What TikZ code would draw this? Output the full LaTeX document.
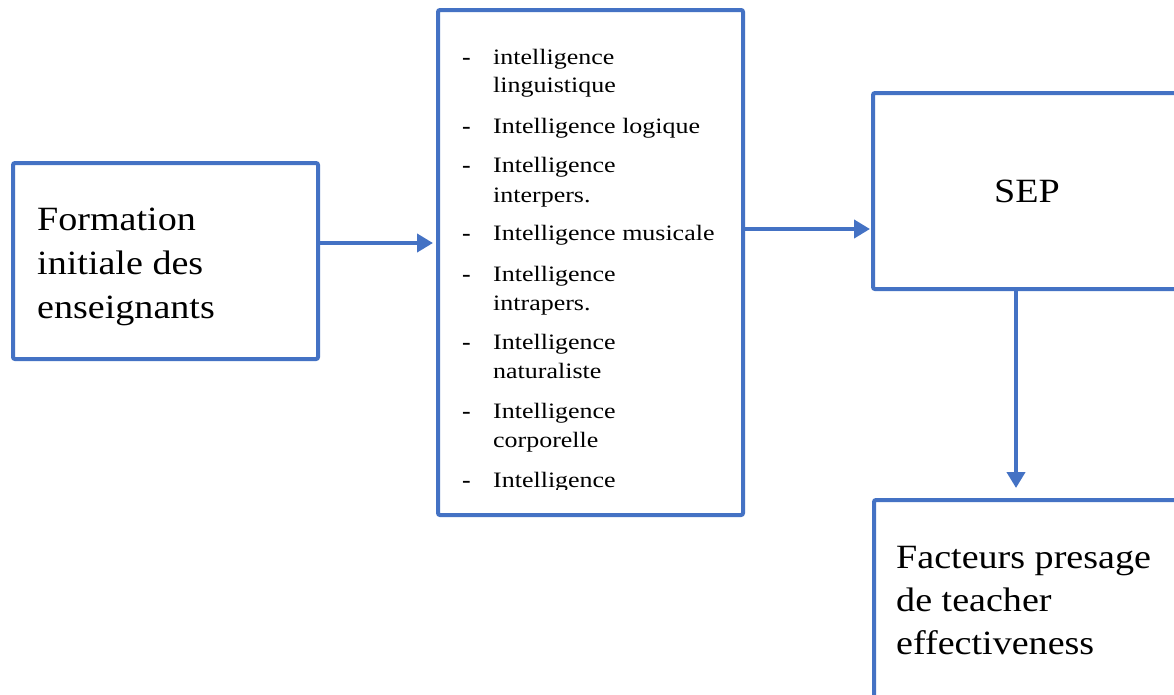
\documentclass[tikz,border=0pt]{standalone}
\usepackage{fontspec}
\setmainfont{Liberation Serif}
\newfontfamily\boxfont[FakeStretch=1.12]{Liberation Serif}
\newfontfamily\listfont[FakeStretch=1.18]{Liberation Serif}
\usetikzlibrary{arrows.meta}
\definecolor{officeblue}{RGB}{68,114,196}
\tikzset{
  box/.style={draw=officeblue, line width=4pt, rounded corners=2pt, inner sep=0pt, fill=white},
  arr/.style={draw=officeblue, line width=4.5pt, -{Triangle[length=16pt,width=18pt]}},
  bigtxt/.style={anchor=base west, inner sep=0pt, font=\boxfont\fontsize{34}{44}\selectfont},
  listtxt/.style={anchor=base west, inner sep=0pt, font=\listfont\fontsize{22}{29}\selectfont},
}
\begin{document}
\begin{tikzpicture}[x=1pt,y=-1pt]
\useasboundingbox (0,0) rectangle (1174,694);
\clip (0,0) rectangle (1174,694);
\fill[white] (0,0) rectangle (1174,694);
% boxes
\node[box, minimum width=305pt, minimum height=196pt] (A) at (165.5,261) {};
\node[box, minimum width=305pt, minimum height=505pt] (B) at (590.5,262.5) {};
\node[box, minimum width=308pt, minimum height=196pt, font=\boxfont\fontsize{34}{44}\selectfont] (C) at (1027,191) {SEP};
\node[box, minimum width=308pt, minimum height=300pt] (D) at (1028,650) {};
% texts of A
\node[bigtxt] (a1) at (37,230) {Formation};
\node[bigtxt] (a2) at (37,274) {initiale des};
\node[bigtxt] (a3) at (37,318) {enseignants};
% texts of D
\node[bigtxt] (d1) at (896,568) {Facteurs presage};
\node[bigtxt] (d2) at (896,611) {de teacher};
\node[bigtxt] (d3) at (896,654) {effectiveness};
% list in B
\begin{scope}
\clip (440,12) rectangle (741,489.5);
\foreach \yy [count=\i] in {64,133,172,240,281,349,418,487}
  \node[listtxt, font=\bfseries\listfont\fontsize{22}{29}\selectfont] (dash\i) at (462,\yy) {-};
\foreach \yy/\tt [count=\i] in {
  64/intelligence, 92/linguistique, 133/Intelligence logique,
  172/Intelligence, 202/interpers., 240/Intelligence musicale,
  281/Intelligence, 310/intrapers., 349/Intelligence,
  378/naturaliste, 418/Intelligence, 447/corporelle, 487/Intelligence}
  \node[listtxt] (l\i) at (493,\yy) {\tt};
\end{scope}
% connectors
\draw[arr, shorten >=3pt] ([yshift=18pt]A.east) -- ([yshift=18pt]A.east -| B.west);
\draw[arr, shorten >=1pt] ([yshift=33.5pt]B.east) -- ([yshift=33.5pt]B.east -| C.west);
\draw[arr, shorten >=10pt] ([xshift=-11pt]C.south) -- ([xshift=-11pt]C.south |- D.north);
\end{tikzpicture}
\end{document}
